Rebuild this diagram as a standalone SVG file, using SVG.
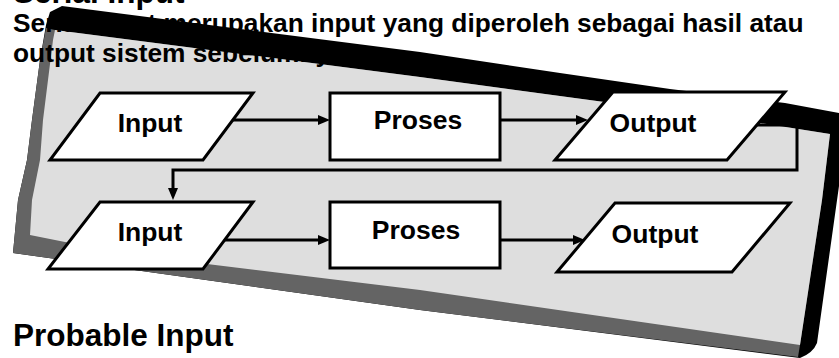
<svg xmlns="http://www.w3.org/2000/svg" width="839" height="358" viewBox="0 0 839 358">
<style>
text{font-family:"Liberation Sans",Arial,Helvetica,sans-serif;font-weight:bold;fill:#000}
.head{font-size:31.5px}
.body{font-size:26.3px}
.lbl{font-size:26.5px;text-anchor:middle}
.node{fill:#fff;stroke:#000;stroke-width:3;stroke-linejoin:miter}
.conn{fill:none;stroke:#000;stroke-width:3}
</style>
<defs>
<marker id="ah" markerWidth="12" markerHeight="10" refX="4" refY="5" orient="auto" markerUnits="userSpaceOnUse">
<path d="M0,0 L12,5 L0,10 Z" fill="#000"/>
</marker>
</defs>
<rect width="839" height="358" fill="#fff"/>
<g id="paper">
<path d="M50,12 L62,6 L420,52 L560,73 L670,89 L785,103 L839,113 L850,113 L850,180 L839,186 L817,343 Q813,353 800,358 L420,310 L13,253 L18,200 L27,160 L32,120 L40,60 L46,25 Z" fill="#000"/>
<path d="M46,28 L55,30 L420,77 L760,123 L830,134 L822,200 L800,345 L798,357 L420,310 L13,253 L18,200 L27,160 L32,120 L40,60 Z" fill="#646464"/>
<path d="M55,30 L420,77 L760,123 L830,134 L822,200 L800,345 L420,290 L207,264 L65,242 L30,235 L32,200 L40,160 L43,120 L53,40 Z" fill="#dedede"/>
</g>
<g id="connectors">
<path class="conn" d="M232,120 H322" marker-end="url(#ah)"/>
<path class="conn" d="M500,120 H580" marker-end="url(#ah)"/>
<path class="conn" d="M756,125 H797 V170 H173 V192" marker-end="url(#ah)"/>
<path class="conn" d="M225,240 H322" marker-end="url(#ah)"/>
<path class="conn" d="M500,240 H577" marker-end="url(#ah)"/>
</g>
<g id="input1">
<polygon class="node" points="100,93 253,93 203,160 50,160"/>
<text class="lbl" x="150" y="132">Input</text>
</g>
<g id="proses1">
<rect class="node" x="330" y="93" width="170" height="67"/>
<text class="lbl" x="418" y="129">Proses</text>
</g>
<g id="output1">
<polygon class="node" points="613,92 785,92 727,160 555,160"/>
<text class="lbl" x="653" y="132">Output</text>
</g>
<g id="input2">
<polygon class="node" points="100,202 253,202 203,269 48,269"/>
<text class="lbl" x="150" y="241">Input</text>
</g>
<g id="proses2">
<rect class="node" x="330" y="202" width="170" height="66"/>
<text class="lbl" x="416" y="239">Proses</text>
</g>
<g id="output2">
<polygon class="node" points="615,203 790,203 732,272 557,272"/>
<text class="lbl" x="655" y="243">Output</text>
</g>
<g id="texts">
<text class="head" x="13" y="3">Serial Input</text>
<text class="body" x="13" y="32">Serial input merupakan input yang diperoleh sebagai hasil atau</text>
<text class="body" x="13" y="62">output sistem sebelumnya</text>
<text class="head" x="13" y="346">Probable Input</text>
</g>
</svg>
